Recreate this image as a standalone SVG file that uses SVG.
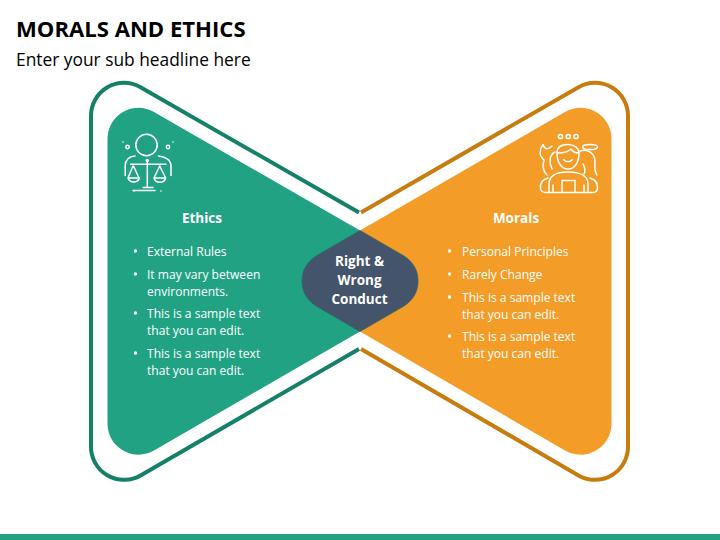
<svg xmlns="http://www.w3.org/2000/svg" width="720" height="540" viewBox="0 0 720 540">
<style>
text{font-family:"Open Sans","Noto Sans",sans-serif}
.title{font-size:22.1px;font-weight:700;fill:#000}
.sub{font-size:17.35px;fill:#000}
.hd{font-size:13.5px;font-weight:700;fill:#fff;text-anchor:middle}
.b{font-size:12.05px;fill:#fff}
.c{font-size:13.5px;font-weight:700;fill:#fff;text-anchor:middle}
.ic{fill:none;stroke:#fff;stroke-width:1.5;stroke-linecap:round;stroke-linejoin:round}
.dot{fill:#fff}
.ln{fill:none;stroke-width:4;stroke-linecap:butt}
</style>
<rect id="footer" x="0" y="534" width="720" height="6" fill="#21A383"/>
<g id="heading">
<text class="title" x="16" y="36.500">MORALS AND ETHICS</text>
<text class="sub" x="16" y="65.500">Enter your sub headline here</text>
</g>
<g id="connectors">
<path class="ln" stroke="#158068" d="M359,212.500L140.500,87.200A33,33 0 0 0 91,116V447A33,33 0 0 0 140.500,475.400L359,349"/>
<path class="ln" stroke="#C87C0E" d="M361,212.500L578.500,87.200A33,33 0 0 1 628,116V447A33,33 0 0 1 578.500,475.400L361,349"/>
</g>
<g id="ethics">
<path fill="#21A383" d="M360,230.500L154,112A31,31 0 0 0 107.500,138V424A31,31 0 0 0 154,450.500L360,331.500Z"/>
<g class="ic">
<circle cx="146.500" cy="145" r="10.700"/>
<path d="M135,156C129,156.500 125.200,160 125.200,166V175.500M158.500,156C165,156.500 171,160 171,166V175.500"/>
<path d="M130.700,164.300H166M147.300,161V187.500M143,187.500H153M133,190.500H155"/>
<path d="M133,166L128,178H139L133.500,166M128,178A6,5.500 0 0 0 139.500,178M159.700,166L154,178H165.700L159.700,166M154,178A6,5.500 0 0 0 165.700,178"/>
<circle cx="127.500" cy="147" r="1.700"/><circle cx="168" cy="147" r="1.700"/>
</g>
<circle class="dot" cx="147.300" cy="160.500" r="1.800"/>
<circle class="dot" cx="123" cy="142" r=".8"/><circle class="dot" cx="173" cy="142" r=".8"/>
<circle class="dot" cx="134" cy="191" r=".8"/><circle class="dot" cx="161" cy="191" r=".8"/>
<text class="hd" x="202" y="223">Ethics</text>
<circle class="dot" cx="135.500" cy="251" r="1.700"/>
<text class="b" x="147" y="256">External Rules</text>
<circle class="dot" cx="135.500" cy="274" r="1.700"/>
<text class="b" x="147" y="279">It may vary between</text>
<text class="b" x="147" y="296">environments.</text>
<circle class="dot" cx="135.500" cy="313" r="1.700"/>
<text class="b" x="147" y="318">This is a sample text</text>
<text class="b" x="147" y="335">that you can edit.</text>
<circle class="dot" cx="135.500" cy="353" r="1.700"/>
<text class="b" x="147" y="358">This is a sample text</text>
<text class="b" x="147" y="375">that you can edit.</text>
</g>
<g id="morals">
<path fill="#F39C27" d="M360,230.500L565,112A31,31 0 0 1 611.500,138V424A31,31 0 0 1 565,450.500L360,331.500Z"/>
<g class="ic">
<circle cx="560.500" cy="136.500" r="2.100"/><circle cx="568.300" cy="136.500" r="2.100"/><circle cx="576" cy="136.500" r="2.100"/>
<ellipse cx="590" cy="147" rx="7.500" ry="2.600"/>
<path d="M557,153C557,147 562,144.500 568,144.500C574,144.500 579,148 579,153C579,162 575,169 568,169C561,169 557,162 557,153Z"/>
<path d="M558,153C564,153 569,151 571,149C573,152 576,153 578,153M563.500,159.500Q568,164 572.500,159.500"/>
<path d="M549,192.500V184C549,176 556,172 568,172C580,172 588,176 588,184V192.500"/>
<path d="M562,192V180.500H575V192M553,185V192M584,185V192"/>
<path d="M548,178C541,180 540,185 540.500,188.500Q541,192.500 546,192.500H593Q597,192.500 597.500,188.500C598,184 596,180 590,178"/>
<path d="M552,146C548,150 545,150 543,144.500C539,150 539,156 544,160C542.500,165 543,171 547,175"/>
<path d="M555,152C549,155 549,163 552,169"/>
<path d="M580,151C589,148 595,155 595,161C595,167 594,171 597,175"/>
<path d="M583,164C586,169 585,172 584,174"/>
</g>
<text class="hd" x="516" y="223">Morals</text>
<circle class="dot" cx="449.500" cy="251" r="1.700"/>
<text class="b" x="462" y="256">Personal Principles</text>
<circle class="dot" cx="449.500" cy="274" r="1.700"/>
<text class="b" x="462" y="279">Rarely Change</text>
<circle class="dot" cx="449.500" cy="297" r="1.700"/>
<text class="b" x="462" y="302">This is a sample text</text>
<text class="b" x="462" y="319">that you can edit.</text>
<circle class="dot" cx="449.500" cy="336" r="1.700"/>
<text class="b" x="462" y="341">This is a sample text</text>
<text class="b" x="462" y="358">that you can edit.</text>
</g>
<g id="conduct">
<path fill="#44546A" stroke="#2F6A66" stroke-width="0.800" d="M360,230.500L404,256C413,262 418,270 418,281C418,292 413,300 404,306L360,331.500L316,306C307,300 302,292 302,281C302,270 307,262 316,256Z"/>
<text class="c" x="359.500" y="266">Right &amp;</text>
<text class="c" x="359.500" y="285">Wrong</text>
<text class="c" x="359.500" y="304">Conduct</text>
</g>
</svg>
